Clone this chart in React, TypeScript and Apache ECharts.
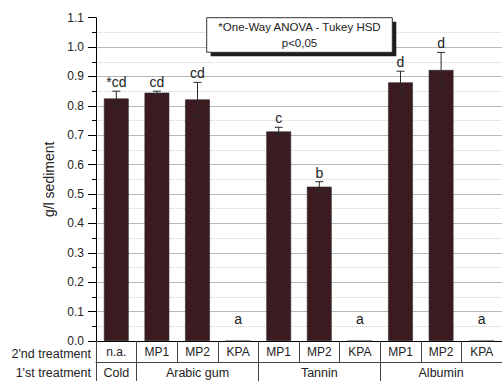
import React, { useEffect, useRef } from "react";
import * as echarts from "echarts";

const secondTreatment = ["n.a.", "MP1", "MP2", "KPA", "MP1", "MP2", "KPA", "MP1", "MP2", "KPA"];
const firstTreatmentGroups = ["Cold", "Arabic gum", "Tannin", "Albumin"];
const firstTreatmentSpans = [1, 3, 3, 3];
const means = [0.825, 0.845, 0.822, 0, 0.713, 0.525, 0, 0.88, 0.922, 0];
const errors = [0.025, 0.005, 0.058, 0, 0.014, 0.017, 0, 0.038, 0.06, 0];
const letters = ["*cd", "cd", "cd", "a", "c", "b", "a", "d", "d", "a"];
const yMin = 0;
const yMax = 1.1;
const yInterval = 0.1;
const yName = "g/l sediment";
const noteLines = ["*One-Way ANOVA - Tukey HSD", "p<0,05"];
const rowHeaders = ["2'nd treatment", "1'st treatment"];

const FONT = "'Liberation Sans', Arial, sans-serif";

// build group label row and boundaries from spans
const groupLabels: string[] = new Array(secondTreatment.length).fill("");
const boundaries: number[] = [];
{
  let start = 0;
  firstTreatmentSpans.forEach((span, gi) => {
    boundaries.push(start);
    groupLabels[start + Math.floor((span - 1) / 2)] = firstTreatmentGroups[gi];
    start += span;
  });
}

export default function App() {
  const ref = useRef<HTMLDivElement>(null);
  useEffect(() => {
    if (!ref.current) return;
    const chart = echarts.init(ref.current, undefined, { renderer: "svg" });
    const option: any = {
      animation: false,
      textStyle: { fontFamily: FONT },
      grid: { left: 96, top: 17.7, right: 0, bottom: 40, containLabel: false },
      xAxis: [
        {
          type: "category",
          data: secondTreatment,
          position: "bottom",
          boundaryGap: true,
          axisLine: { show: true, lineStyle: { color: "#000", width: 1 } },
          axisTick: { show: true, length: 21, lineStyle: { color: "#444" } },
          axisLabel: { interval: 0, margin: 5, fontSize: 12, color: "#222", fontFamily: FONT },
          splitLine: {
            show: true,
            lineStyle: { color: "#bdbdbd", width: 1, shadowColor: "#c8c8c8", shadowOffsetX: 2, shadowBlur: 0 },
          },
        },
        {
          type: "category",
          data: groupLabels,
          position: "bottom",
          offset: 21,
          boundaryGap: true,
          axisLine: { show: true, lineStyle: { color: "#444", width: 1 } },
          axisTick: {
            show: true,
            length: 20,
            interval: (index: number) => boundaries.indexOf(index) >= 0,
            lineStyle: { color: "#444" },
          },
          axisLabel: { interval: 0, margin: 4, fontSize: 12.5, color: "#222", fontFamily: FONT, hideOverlap: false },
          splitLine: { show: false },
        },
      ],
      yAxis: {
        type: "value",
        min: yMin,
        max: yMax,
        interval: yInterval,
        name: yName,
        nameLocation: "middle",
        nameGap: 37,
        nameTextStyle: { fontSize: 14, color: "#222", fontFamily: FONT },
        axisLine: { show: true, lineStyle: { color: "#000", width: 1 } },
        axisTick: { show: true, length: 8, lineStyle: { color: "#000" } },
        minorTick: { show: true, splitNumber: 2, length: 4, lineStyle: { color: "#000" } },
        axisLabel: {
          margin: 12,
          fontSize: 12,
          lineHeight: 12,
          color: "#222",
          fontFamily: FONT,
          formatter: (v: number) => v.toFixed(1),
        },
        splitLine: { show: true, showMaxLine: false, lineStyle: { color: "#b8b8b8", width: 1 } },
        minorSplitLine: { show: true, lineStyle: { color: "#cfcfcf", type: "dotted", width: 1 } },
      },
      series: [
        {
          type: "bar",
          data: means,
          barWidth: "61%",
          itemStyle: { color: "#3b1a20", borderColor: "#2e2e2e", borderWidth: 0.6 },
          z: 2,
        },
        {
          type: "custom",
          data: means.map((m, i) => [i, m, errors[i]]),
          encode: { x: 0, y: 1 },
          z: 3,
          renderItem: (params: any, api: any) => {
            const idx = params.dataIndex;
            const i = api.value(0);
            const m = api.value(1);
            const e = api.value(2);
            const top = api.coord([i, m + e]);
            const bot = api.coord([i, m - e]);
            const zero = api.coord([i, 0]);
            const cap = 4;
            const stroke = { stroke: "#2a2a2a", lineWidth: 1 };
            const children: any[] = [];
            if (e > 0) {
              children.push({ type: "line", shape: { x1: top[0], y1: top[1], x2: bot[0], y2: bot[1] }, style: stroke });
              children.push({ type: "line", shape: { x1: top[0] - cap, y1: top[1], x2: top[0] + cap, y2: top[1] }, style: stroke });
              children.push({ type: "line", shape: { x1: bot[0] - cap, y1: bot[1], x2: bot[0] + cap, y2: bot[1] }, style: stroke });
            }
            const ly = Math.min(top[1] - 9, zero[1] - 22);
            children.push({
              type: "text",
              x: top[0],
              y: ly,
              style: {
                text: letters[idx],
                fontSize: 14,
                fontFamily: FONT,
                fill: "#222",
                align: "center",
                verticalAlign: "middle",
              },
            });
            return { type: "group", children };
          },
        },
      ],
      graphic: [
        {
          type: "rect",
          shape: { x: 210.7, y: 21.7, width: 185.6, height: 34.6 },
          style: { fill: "#1e1e1e" },
          z: 10,
        },
        {
          type: "rect",
          shape: { x: 206.7, y: 17.7, width: 185.6, height: 34.6 },
          style: { fill: "#fff", stroke: "#333", lineWidth: 1 },
          z: 11,
        },
        {
          type: "text",
          x: 299.5,
          y: 35,
          z: 12,
          style: {
            text: noteLines.join("\n"),
            fontSize: 11.5,
            lineHeight: 16,
            fontFamily: FONT,
            fill: "#222",
            align: "center",
            verticalAlign: "middle",
          },
        },
        {
          type: "text",
          x: 91,
          y: 354,
          style: { text: rowHeaders[0], fontSize: 12.5, fontFamily: FONT, fill: "#222", align: "right", verticalAlign: "middle" },
        },
        {
          type: "text",
          x: 91,
          y: 373,
          style: { text: rowHeaders[1], fontSize: 12.5, fontFamily: FONT, fill: "#222", align: "right", verticalAlign: "middle" },
        },
      ],
    };
    chart.setOption(option);
    return () => chart.dispose();
  }, []);
  return (
    <div
      ref={ref}
      style={{ position: "absolute", left: 0, top: 0, width: 502, height: 381, background: "#fff" }}
    />
  );
}
